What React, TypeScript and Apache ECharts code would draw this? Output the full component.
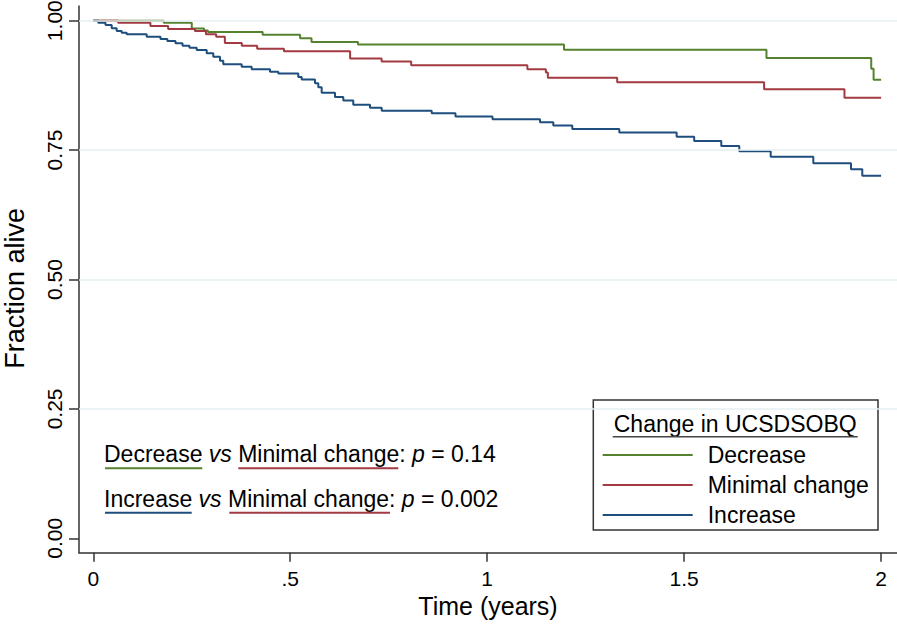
import React, { useEffect, useRef } from "react";
import * as echarts from "echarts";

const FONT = '"Liberation Sans", Arial, "Helvetica", sans-serif';

// Kaplan–Meier step points: time (years) and fraction alive after each event
const decreaseTimes = [0, 0.179, 0.25, 0.281, 0.291, 0.43, 0.525, 0.554, 0.672, 1.195, 1.709, 1.975, 1.981, 2.0];
const decreaseSurv = [1.0, 0.996, 0.985, 0.981, 0.978, 0.973, 0.966, 0.959, 0.954, 0.944, 0.928, 0.907, 0.886, 0.886];

const minimalTimes = [0, 0.063, 0.145, 0.19, 0.258, 0.286, 0.312, 0.334, 0.377, 0.416, 0.484, 0.652, 0.732, 0.807, 1.102, 1.149, 1.154, 1.33, 1.703, 1.907, 2.0];
const minimalSurv = [1.0, 0.996, 0.99, 0.984, 0.98, 0.974, 0.969, 0.957, 0.9515, 0.946, 0.941, 0.927, 0.921, 0.914, 0.906, 0.9, 0.89, 0.881, 0.8675, 0.851, 0.851];

const increaseTimes = [0, 0.0127, 0.031, 0.0467, 0.0594, 0.0721, 0.0848, 0.1356, 0.1706, 0.188, 0.2087, 0.2265, 0.2442, 0.2625, 0.2879, 0.3046, 0.3217, 0.33, 0.3767, 0.4021, 0.4486, 0.4697, 0.5204, 0.529, 0.5628, 0.5712, 0.5798, 0.6136, 0.6347, 0.66, 0.7025, 0.7322, 0.8591, 0.9195, 1.0135, 1.134, 1.1678, 1.216, 1.3354, 1.481, 1.5255, 1.5943, 1.64, 1.7197, 1.8279, 1.9236, 1.9523, 2.0];
const increaseSurv = [1.0, 0.996, 0.9917, 0.9853, 0.98, 0.9768, 0.9737, 0.9691, 0.9646, 0.9608, 0.9563, 0.9517, 0.9478, 0.9434, 0.937, 0.9305, 0.9227, 0.9158, 0.9111, 0.9061, 0.9015, 0.898, 0.8912, 0.8864, 0.879, 0.8713, 0.8609, 0.8526, 0.8458, 0.8377, 0.8319, 0.8261, 0.8211, 0.8149, 0.8097, 0.8037, 0.7975, 0.7908, 0.784, 0.7759, 0.7676, 0.7579, 0.7477, 0.7373, 0.7245, 0.7129, 0.7005, 0.7005];

const seriesNames = ["Decrease", "Minimal change", "Increase"];
const xTickValues = [0, 0.5, 1, 1.5, 2];
const xTickLabels = ["0", ".5", "1", "1.5", "2"];
const yTickValues = [0, 0.25, 0.5, 0.75, 1];
const yTickLabels = ["0.00", "0.25", "0.50", "0.75", "1.00"];
const gridValues = [0.25, 0.5, 0.75, 1];

const legendTitle = "Change in UCSDSOBQ";
const annotation1 = "Decrease {i|vs} Minimal change: {i|p} = 0.14";
const annotation2 = "Increase {i|vs} Minimal change: {i|p} = 0.002";

const GREEN = "#55822f";
const RED = "#a33a42";
const BLUE = "#1d4e7e";
const AXIS = "#333333";

const zip = (t: number[], s: number[]) => t.map((v, i) => [v, s[i]]);

export default function App() {
  const ref = useRef<HTMLDivElement>(null);
  useEffect(() => {
    if (!ref.current) return;
    const chart = echarts.init(ref.current, undefined, { renderer: "svg" });
    const lineSeries = (name: string, color: string, data: number[][]) => ({
      name,
      type: "line",
      step: "end",
      data,
      showSymbol: false,
      symbol: "none",
      color,
      lineStyle: { color, width: 2 },
      z: 3,
    });
    const option: any = {
      animation: false,
      textStyle: { fontFamily: FONT },
      grid: { left: 79, right: 0, top: 6, bottom: 71.3, containLabel: false, outerBoundsMode: "none" },
      xAxis: {
        type: "value",
        min: -0.0363,
        max: 2.0404,
        name: "Time (years)",
        nameLocation: "middle",
        nameGap: 40,
        nameTextStyle: { fontSize: 25, color: "#000", fontFamily: FONT },
        axisLine: { show: true, onZero: false, lineStyle: { color: AXIS, width: 1.5 } },
        axisTick: { show: true, customValues: xTickValues, length: 9, lineStyle: { color: AXIS, width: 1.5 } },
        axisLabel: {
          customValues: xTickValues,
          formatter: (v: number) => xTickLabels[xTickValues.indexOf(v)] ?? String(v),
          fontSize: 21,
          color: "#000",
          margin: 15,
          fontFamily: FONT,
        },
        splitLine: { show: false },
      },
      yAxis: {
        type: "value",
        min: -0.0278,
        max: 1.0284,
        name: "Fraction alive",
        nameLocation: "middle",
        nameRotate: 90,
        nameGap: 51,
        nameTextStyle: { fontSize: 27, color: "#000", fontFamily: FONT, padding: [0, 18, 0, 0] },
        axisLine: { show: true, onZero: false, lineStyle: { color: AXIS, width: 1.5 } },
        axisTick: { show: true, customValues: yTickValues, length: 10, lineStyle: { color: AXIS, width: 1.5 } },
        axisLabel: {
          customValues: yTickValues,
          formatter: (v: number) => yTickLabels[yTickValues.indexOf(v)] ?? String(v),
          rotate: 90,
          fontSize: 21,
          color: "#000",
          margin: 14,
          fontFamily: FONT,
        },
        splitLine: { show: false },
      },
      legend: {
        data: seriesNames,
        orient: "vertical",
        left: 602.7,
        top: 443,
        icon: "rect",
        itemWidth: 90,
        itemHeight: 2,
        itemGap: 6,
        padding: 0,
        itemStyle: { borderWidth: 0 },
        textStyle: { fontSize: 23, lineHeight: 24, color: "#000", fontFamily: FONT, padding: [0, 0, 0, 10] },
        selectedMode: false,
      },
      series: [
        {
          name: "grid",
          type: "line",
          data: [],
          silent: true,
          z: 1,
          markLine: {
            silent: true,
            symbol: "none",
            label: { show: false },
            lineStyle: { color: "#e6eff1", width: 1.5, type: "solid" },
            data: gridValues.map((v) => ({ yAxis: v })),
          },
        },
        lineSeries(seriesNames[0], GREEN, zip(decreaseTimes, decreaseSurv)),
        lineSeries(seriesNames[1], RED, zip(minimalTimes, minimalSurv)),
        lineSeries(seriesNames[2], BLUE, zip(increaseTimes, increaseSurv)),
      ],
      graphic: [
        {
          type: "rect",
          z: 0,
          shape: { x: 593.3, y: 400, width: 284.7, height: 130 },
          style: { fill: "#fff", stroke: AXIS, lineWidth: 1.5 },
        },
        {
          type: "text",
          z: 2,
          x: 735.2,
          y: 424,
          style: {
            text: legendTitle,
            fontSize: 23,
            fontFamily: FONT,
            fill: "#000",
            textAlign: "center",
            textVerticalAlign: "middle",
          },
        },
        {
          type: "line",
          z: 2,
          shape: { x1: 612.7, y1: 436.7, x2: 857.7, y2: 436.7 },
          style: { stroke: "#444", lineWidth: 1.5 },
        },
        {
          type: "text",
          z: 2,
          x: 104,
          y: 454,
          style: {
            text: annotation1,
            fontSize: 23,
            fontFamily: FONT,
            fill: "#000",
            textVerticalAlign: "middle",
            rich: { i: { fontStyle: "italic", fontSize: 23, fontFamily: FONT, fill: "#000" } },
          },
        },
        {
          type: "text",
          z: 2,
          x: 104,
          y: 498.5,
          style: {
            text: annotation2,
            fontSize: 23,
            fontFamily: FONT,
            fill: "#000",
            textVerticalAlign: "middle",
            rich: { i: { fontStyle: "italic", fontSize: 23, fontFamily: FONT, fill: "#000" } },
          },
        },
        { type: "line", z: 2, shape: { x1: 105, y1: 468.3, x2: 202.3, y2: 468.3 }, style: { stroke: GREEN, lineWidth: 2 } },
        { type: "line", z: 2, shape: { x1: 238.3, y1: 468.3, x2: 398.3, y2: 468.3 }, style: { stroke: RED, lineWidth: 2 } },
        { type: "line", z: 2, shape: { x1: 105, y1: 512.7, x2: 191.7, y2: 512.7 }, style: { stroke: BLUE, lineWidth: 2 } },
        { type: "line", z: 2, shape: { x1: 229.3, y1: 512.7, x2: 390, y2: 512.7 }, style: { stroke: RED, lineWidth: 2 } },
      ],
    };
    chart.setOption(option);
    return () => chart.dispose();
  }, []);
  return (
    <div
      ref={ref}
      style={{ position: "absolute", left: 0, top: 0, width: 897, height: 624, background: "#fff" }}
    />
  );
}
